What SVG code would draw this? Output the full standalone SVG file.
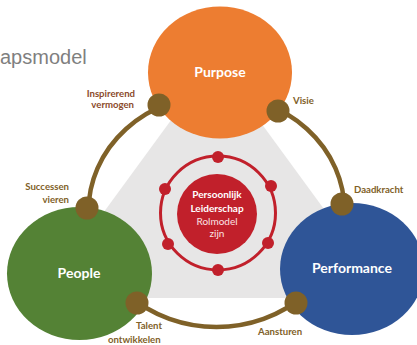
<svg xmlns="http://www.w3.org/2000/svg" width="417" height="345" viewBox="0 0 417 345">
  <style>
    .title { font-family: "Liberation Sans", Arial, sans-serif; font-size: 20px; fill: #7f7f7f; }
    .main { font-family: Lato, "Open Sans", sans-serif; font-weight: bold; font-size: 14px; fill: #ffffff; text-anchor: middle; }
    .lbl { font-family: Lato, "Open Sans", sans-serif; font-weight: bold; font-size: 9.6px; fill: #7f6128; }
    .lbl-red { fill: #8b4a2b; }
    .end { text-anchor: end; }
    .core-b { font-family: Lato, "Open Sans", sans-serif; font-weight: bold; font-size: 10px; fill: #ffffff; text-anchor: middle; }
    .core-n { font-family: Lato, "Open Sans", sans-serif; font-size: 10px; fill: #fbe3e4; text-anchor: middle; }
    .dot { fill: #7f6128; }
    .rdot { fill: #c1202b; }
  </style>

  <rect width="417" height="345" fill="#ffffff"/>

  <text class="title" x="0" y="64">apsmodel</text>

  <!-- grey backdrop between the three pillars -->
  <polygon points="215,60 389,298 41,298" fill="#e7e6e6"/>

  <!-- connectors: the ring linking the pillars -->
  <g id="connectors">
    <ellipse cx="216.5" cy="211" rx="128" ry="116" fill="none" stroke="#7f6128" stroke-width="4.5"/>
  </g>

  <g id="purpose">
    <ellipse cx="220" cy="72.5" rx="72" ry="66" fill="#ed7d31"/>
    <text class="main" x="220" y="77">Purpose</text>
  </g>

  <g id="people">
    <ellipse cx="79.5" cy="273.5" rx="72.5" ry="66.5" fill="#548235"/>
    <text class="main" x="79" y="278">People</text>
  </g>

  <g id="performance">
    <ellipse cx="352" cy="269" rx="72" ry="66" fill="#2f5597"/>
    <text class="main" x="352" y="273">Performance</text>
  </g>

  <g id="core">
    <ellipse cx="218" cy="213" rx="57.5" ry="57" fill="none" stroke="#c1202b" stroke-width="3"/>
    <circle class="rdot" cx="218" cy="157" r="6"/>
    <circle class="rdot" cx="218" cy="270" r="6"/>
    <circle class="rdot" cx="165" cy="189" r="6"/>
    <circle class="rdot" cx="168" cy="244" r="6"/>
    <circle class="rdot" cx="271" cy="186" r="6"/>
    <circle class="rdot" cx="268" cy="243" r="6"/>
    <circle cx="217" cy="214" r="40" fill="#c1202b"/>
    <text class="core-b" x="217" y="198">Persoonlijk</text>
    <text class="core-b" x="217" y="212">Leiderschap</text>
    <text class="core-n" x="217" y="225">Rolmodel</text>
    <text class="core-n" x="217" y="237">zijn</text>
  </g>

  <g id="inspirerend">
    <circle class="dot" cx="159" cy="105" r="11.5"/>
    <text class="lbl lbl-red end" x="135" y="97">Inspirerend</text>
    <text class="lbl lbl-red end" x="134" y="108">vermogen</text>
  </g>

  <g id="visie">
    <circle class="dot" cx="278" cy="111" r="11.5"/>
    <text class="lbl" x="293" y="104">Visie</text>
  </g>

  <g id="successen">
    <circle class="dot" cx="87" cy="208" r="11.5"/>
    <text class="lbl end" x="69" y="190">Successen</text>
    <text class="lbl end" x="69" y="203">vieren</text>
  </g>

  <g id="daadkracht">
    <circle class="dot" cx="342" cy="204" r="11.5"/>
    <text class="lbl" x="354" y="193">Daadkracht</text>
  </g>

  <g id="talent">
    <circle class="dot" cx="137" cy="303" r="11.5"/>
    <text class="lbl" x="136" y="329">Talent</text>
    <text class="lbl" x="108" y="343">ontwikkelen</text>
  </g>

  <g id="aansturen">
    <circle class="dot" cx="296" cy="303" r="11.5"/>
    <text class="lbl" x="258" y="335">Aansturen</text>
  </g>
</svg>
